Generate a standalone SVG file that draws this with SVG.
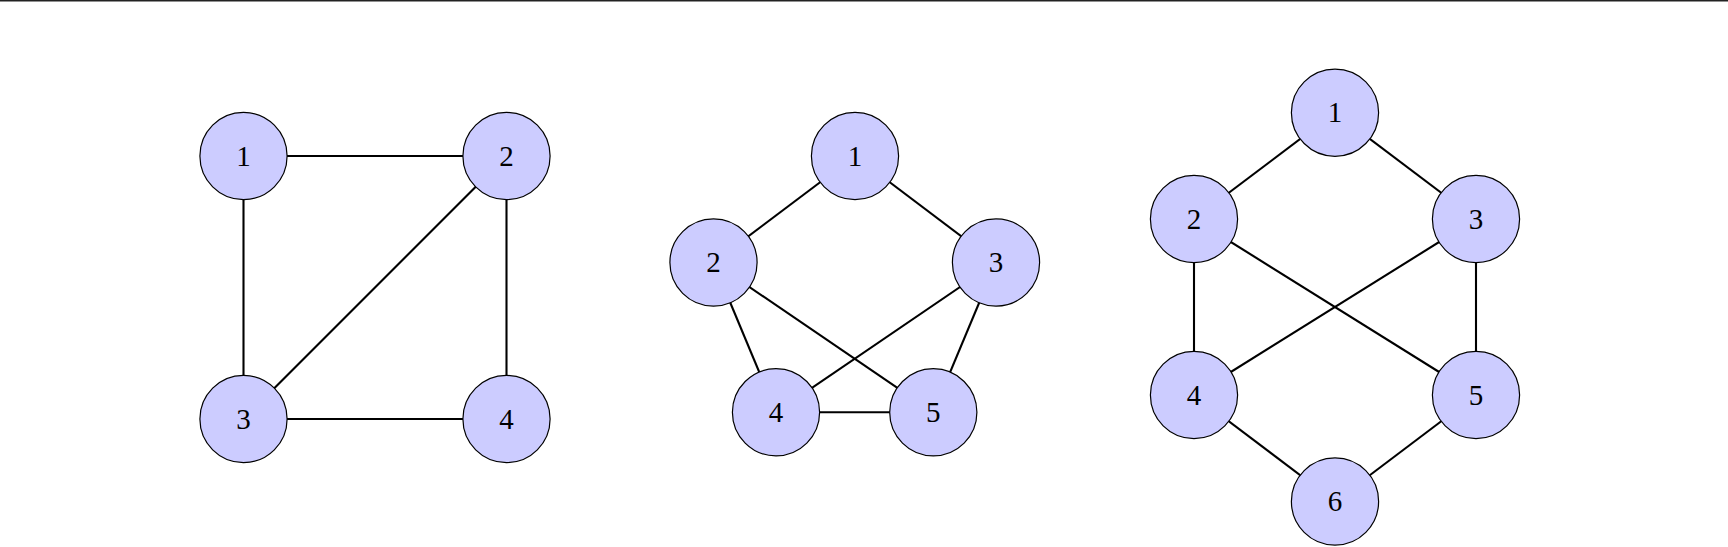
<svg xmlns="http://www.w3.org/2000/svg" width="1728" height="547" viewBox="0 0 1728 547">
<style>
.e{stroke:#000;stroke-width:2.1;fill:none}
.n circle{fill:#ccccff;stroke:#000;stroke-width:1.2}
.n text{font-family:"Liberation Serif","DejaVu Serif",serif;font-size:29px;fill:#000;text-anchor:middle}
</style>
<rect width="1728" height="547" fill="#fff"/>
<line x1="0" y1="0.7" x2="1728" y2="0.7" stroke="#222" stroke-width="1.4"/>
<g id="connectors">
<line class="e" x1="243.5" y1="156" x2="506.5" y2="156"/>
<line class="e" x1="243.5" y1="156" x2="243.5" y2="419"/>
<line class="e" x1="506.5" y1="156" x2="243.5" y2="419"/>
<line class="e" x1="506.5" y1="156" x2="506.5" y2="419"/>
<line class="e" x1="243.5" y1="419" x2="506.5" y2="419"/>
<line class="e" x1="855" y1="156" x2="713.5" y2="262.5"/>
<line class="e" x1="855" y1="156" x2="996" y2="262.5"/>
<line class="e" x1="713.5" y1="262.5" x2="776" y2="412.3"/>
<line class="e" x1="713.5" y1="262.5" x2="933.3" y2="412.3"/>
<line class="e" x1="996" y1="262.5" x2="776" y2="412.3"/>
<line class="e" x1="996" y1="262.5" x2="933.3" y2="412.3"/>
<line class="e" x1="776" y1="412.3" x2="933.3" y2="412.3"/>
<line class="e" x1="1335" y1="112.7" x2="1194" y2="219"/>
<line class="e" x1="1335" y1="112.7" x2="1476" y2="219"/>
<line class="e" x1="1194" y1="219" x2="1194" y2="395"/>
<line class="e" x1="1194" y1="219" x2="1476" y2="395"/>
<line class="e" x1="1476" y1="219" x2="1194" y2="395"/>
<line class="e" x1="1476" y1="219" x2="1476" y2="395"/>
<line class="e" x1="1194" y1="395" x2="1335" y2="501.5"/>
<line class="e" x1="1476" y1="395" x2="1335" y2="501.5"/>
</g>
<g id="g1n1" class="n"><circle cx="243.5" cy="156" r="43.6"/><text x="243.5" y="165.5">1</text></g>
<g id="g1n2" class="n"><circle cx="506.5" cy="156" r="43.6"/><text x="506.5" y="165.5">2</text></g>
<g id="g1n3" class="n"><circle cx="243.5" cy="419" r="43.6"/><text x="243.5" y="428.5">3</text></g>
<g id="g1n4" class="n"><circle cx="506.5" cy="419" r="43.6"/><text x="506.5" y="428.5">4</text></g>
<g id="g2n1" class="n"><circle cx="855" cy="156" r="43.6"/><text x="855" y="165.5">1</text></g>
<g id="g2n2" class="n"><circle cx="713.5" cy="262.5" r="43.6"/><text x="713.5" y="272">2</text></g>
<g id="g2n3" class="n"><circle cx="996" cy="262.5" r="43.6"/><text x="996" y="272">3</text></g>
<g id="g2n4" class="n"><circle cx="776" cy="412.3" r="43.6"/><text x="776" y="421.8">4</text></g>
<g id="g2n5" class="n"><circle cx="933.3" cy="412.3" r="43.6"/><text x="933.3" y="421.8">5</text></g>
<g id="g3n1" class="n"><circle cx="1335" cy="112.7" r="43.6"/><text x="1335" y="122.2">1</text></g>
<g id="g3n2" class="n"><circle cx="1194" cy="219" r="43.6"/><text x="1194" y="228.5">2</text></g>
<g id="g3n3" class="n"><circle cx="1476" cy="219" r="43.6"/><text x="1476" y="228.5">3</text></g>
<g id="g3n4" class="n"><circle cx="1194" cy="395" r="43.6"/><text x="1194" y="404.5">4</text></g>
<g id="g3n5" class="n"><circle cx="1476" cy="395" r="43.6"/><text x="1476" y="404.5">5</text></g>
<g id="g3n6" class="n"><circle cx="1335" cy="501.5" r="43.6"/><text x="1335" y="511">6</text></g>
</svg>
